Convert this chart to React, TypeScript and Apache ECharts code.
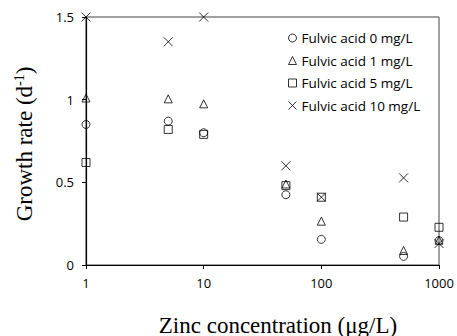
import React, { useEffect, useRef } from "react";
import * as echarts from "echarts";

const zinc = [1, 5, 10, 50, 100, 500, 1000];
const fa0 = [0.85, 0.87, 0.8, 0.425, 0.155, 0.052, 0.147];
const fa1 = [1.01, 1.005, 0.975, 0.49, 0.265, 0.088, 0.15];
const fa5 = [0.62, 0.82, 0.79, 0.48, 0.41, 0.29, 0.228];
const fa10 = [1.5, 1.35, 1.5, 0.6, 0.41, 0.527, 0.13];
const seriesNames = [
  "Fulvic acid 0 mg/L",
  "Fulvic acid 1 mg/L",
  "Fulvic acid 5 mg/L",
  "Fulvic acid 10 mg/L",
];
const yTicks = [0, 0.5, 1, 1.5];

const crossPath = "path://M0,0L10,10M10,0L0,10";

export default function App() {
  const ref = useRef<HTMLDivElement>(null);
  useEffect(() => {
    if (!ref.current) return;
    document.body.style.margin = "0";
    const chart = echarts.init(ref.current, undefined, { renderer: "svg" });
    const sets = [fa0, fa1, fa5, fa10];
    const symbols = ["circle", "triangle", "rect", crossPath];
    const sizes = [8, 8, 8, 9];
    chart.setOption({
      animation: false,
      backgroundColor: "#fff",
      grid: {
        left: 86,
        right: 18,
        top: 17,
        bottom: 71,
        show: true,
        borderColor: "#444",
        borderWidth: 1,
        backgroundColor: "transparent",
      },
      legend: {
        orient: "vertical",
        left: 288,
        top: 31,
        padding: 0,
        itemWidth: 8,
        itemHeight: 8,
        itemGap: 8.5,
        itemStyle: { borderWidth: 1, color: "rgba(0,0,0,0)", borderColor: "#000" },
        textStyle: { fontFamily: "Open Sans", fontSize: 13.5, lineHeight: 14, color: "#000" },
        data: seriesNames.map((n, i) => ({ name: n, icon: symbols[i] })),
      },
      xAxis: {
        type: "log",
        logBase: 10,
        min: 1,
        max: 1000,
        axisLine: { lineStyle: { color: "#000", width: 1.2 } },
        axisTick: { show: true, length: 4, lineStyle: { color: "#000" } },
        minorTick: { show: false },
        splitLine: { show: false },
        axisLabel: {
          fontFamily: "Open Sans",
          fontSize: 13,
          color: "#000",
          margin: 11,
          formatter: (v: number) => String(Math.round(v)),
        },
      },
      yAxis: {
        type: "value",
        min: 0,
        max: 1.5,
        interval: 0.5,
        axisLine: { show: true, lineStyle: { color: "#000", width: 1.2 } },
        axisTick: { show: true, length: 4, lineStyle: { color: "#000" } },
        splitLine: { show: false },
        axisLabel: {
          fontFamily: "Open Sans",
          fontSize: 13,
          color: "#000",
          margin: 12,
          formatter: (v: number) => (yTicks.includes(v) ? String(v) : ""),
        },
      },
      graphic: [
        {
          type: "text",
          x: 24,
          y: 144,
          rotation: Math.PI / 2,
          style: {
            text: "{a|Growth rate (d}{s|-1}{a|)}",
            align: "center",
            verticalAlign: "middle",
            rich: {
              a: { fontFamily: "Liberation Serif", fontSize: 23, fill: "#000" },
              s: {
                fontFamily: "Liberation Serif",
                fontSize: 14,
                fill: "#000",
                padding: [0, 0, 10, 0],
              },
            },
          },
        },
        {
          type: "text",
          x: 278,
          y: 325,
          style: {
            text: "Zinc concentration (\u03bcg/L)",
            align: "center",
            verticalAlign: "middle",
            fontFamily: "Liberation Serif",
            fontSize: 23,
            fill: "#000",
          },
        },
      ],
      series: sets.map((vals, i) => ({
        name: seriesNames[i],
        type: "scatter",
        clip: false,
        symbol: symbols[i],
        symbolSize: sizes[i],
        itemStyle: { color: "rgba(0,0,0,0)", borderColor: "#000", borderWidth: 1 },
        data: zinc.map((z, j) => [z, vals[j]]),
      })),
    });
    return () => chart.dispose();
  }, []);
  return <div ref={ref} style={{ width: 457, height: 336 }} />;
}
